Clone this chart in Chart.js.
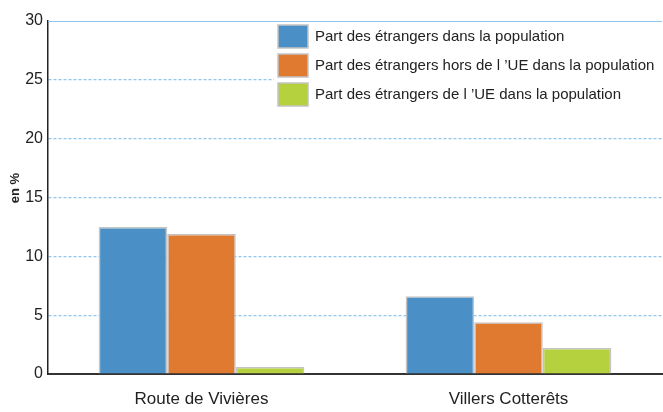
<!DOCTYPE html>
<html>
<head>
<meta charset="utf-8">
<script src="https://cdn.jsdelivr.net/npm/chart.js@4.4.1/dist/chart.umd.min.js"></script>
<style>
  html, body { margin: 0; padding: 0; background: #fff; }
  #wrap { width: 663px; height: 412px; position: relative; }
</style>
</head>
<body>
<div id="wrap"><canvas id="chart"></canvas></div>
<script>
var categories = ["Route de Vivières", "Villers Cotterêts"];
var seriesNames = [
    "Part des étrangers dans la population",
    "Part des étrangers hors de l \u2019UE dans la population",
    "Part des étrangers de l \u2019UE dans la population"
];
var partEtrangers = [12.5, 6.6];
var partHorsUE = [11.9, 4.4];
var partUE = [0.6, 2.2];
var yTicks = [0, 5, 10, 15, 20, 25, 30];

var seriesColors = ["#4a90c6", "#e07a30", "#b5d13e"];
var fontFamily = "'Liberation Sans', Arial, sans-serif";

// legend drawn inside the plot, with a white box behind it
var boxLegend = {
    id: 'boxLegend',
    afterDatasetsDraw: function(chart) {
        var ctx = chart.ctx;
        var area = chart.chartArea;
        ctx.save();
        // solid top line at 30
        ctx.strokeStyle = "#8fc6ee";
        ctx.lineWidth = 1.2;
        ctx.beginPath();
        ctx.moveTo(area.left, area.top + 0.5);
        ctx.lineTo(area.right, area.top + 0.5);
        ctx.stroke();

        ctx.fillStyle = "#fff";
        ctx.fillRect(274, 23, 389, 85);
        var rows = [25, 54, 83];
        ctx.font = "15px " + fontFamily;
        ctx.textBaseline = "middle";
        for (var i = 0; i < seriesNames.length; i++) {
            ctx.fillStyle = seriesColors[i];
            ctx.fillRect(278, rows[i], 30, 23);
            ctx.strokeStyle = "#c4c4c4";
            ctx.lineWidth = 1.5;
            ctx.strokeRect(278, rows[i], 30, 23);
            ctx.fillStyle = "#222";
            ctx.fillText(seriesNames[i], 315, rows[i] + 12);
        }
        ctx.restore();
    }
};

var yLabel = {
    id: 'yLabel',
    afterDraw: function(chart) {
        var ctx = chart.ctx;
        ctx.save();
        ctx.translate(15, 188);
        ctx.rotate(-Math.PI / 2);
        ctx.font = "bold 13px " + fontFamily;
        ctx.fillStyle = "#222";
        ctx.textAlign = "center";
        ctx.textBaseline = "middle";
        ctx.fillText("en %", 0, 0);
        ctx.restore();
    }
};

var datasets = [partEtrangers, partHorsUE, partUE].map(function(vals, i) {
    return {
        label: seriesNames[i],
        data: vals,
        backgroundColor: seriesColors[i],
        borderColor: "#c4c4c4",
        borderWidth: 1.5,
        borderSkipped: 'bottom',
        categoryPercentage: 0.67,
        barPercentage: 1.0
    };
});

new Chart(document.getElementById("chart"), {
    type: 'bar',
    data: { labels: categories, datasets: datasets },
    plugins: [boxLegend, yLabel],
    options: {
        responsive: true,
        maintainAspectRatio: false,
        animation: false,
        layout: { padding: { top: 21, right: 1, left: 0, bottom: 0 } },
        plugins: {
            legend: { display: false },
            tooltip: { enabled: false }
        },
        scales: {
            x: {
                grid: { display: false },
                border: { color: "#333", width: 2 },
                ticks: { color: "#222", font: { family: fontFamily, size: 17 }, padding: 7 },
                afterFit: function(scale) { scale.height = 38; }
            },
            y: {
                min: 0,
                max: 30,
                afterBuildTicks: function(scale) {
                    scale.ticks = yTicks.map(function(v) { return { value: v }; });
                },
                grid: {
                    color: function(c) { return (c.tick && (c.tick.value === 0 || c.tick.value === 30)) ? "rgba(0,0,0,0)" : "#8fc6ee"; },
                    lineWidth: 1.2,
                    drawTicks: false
                },
                border: { color: "#222", width: 1.5, dash: [3, 2] },
                ticks: { color: "#222", font: { family: fontFamily, size: 16 }, padding: 5 },
                afterFit: function(scale) { scale.width = 48; }
            }
        }
    }
});
</script>
</body>
</html>
